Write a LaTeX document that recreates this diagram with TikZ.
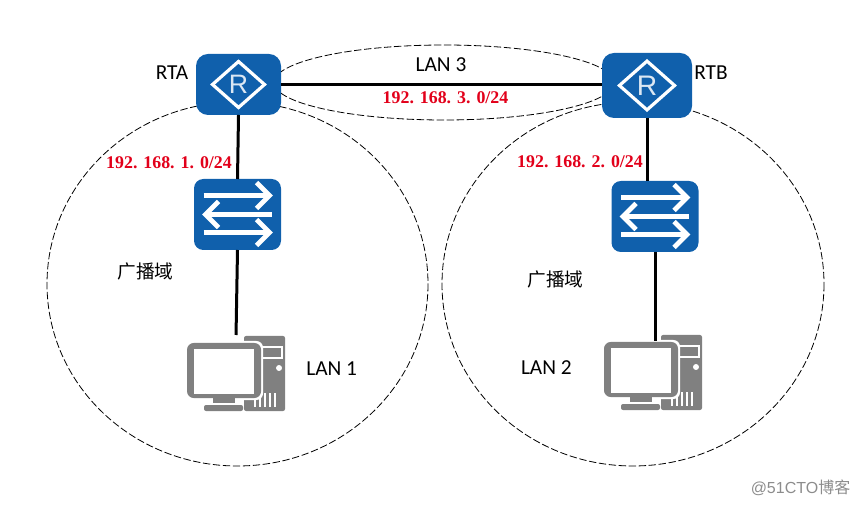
\documentclass[tikz,border=0pt]{standalone}
\usepackage{fontspec}
\setmainfont{Carlito}
\newfontfamily\cjkfont{Noto Sans CJK SC}
\newfontfamily\ipfont{Liberation Serif}
\newfontfamily\markfont{Liberation Sans}
\usetikzlibrary{positioning}

\definecolor{iconblue}{HTML}{1060AC}
\definecolor{pcgray}{HTML}{808080}
\definecolor{ipred}{HTML}{E2001A}

\begin{document}
\begin{tikzpicture}[x=0.75pt,y=-0.75pt]
  \tikzset{
    routerbox/.style={fill=iconblue, rounded corners=9pt, inner sep=0pt, outer sep=0pt},
    switchbox/.style={fill=iconblue, rounded corners=7pt, inner sep=0pt, outer sep=0pt,
      minimum width=65.25pt, minimum height=53.25pt},
    pcbox/.style={inner sep=0pt, outer sep=0pt, minimum width=73.5pt, minimum height=57pt},
    namelabel/.style={inner sep=0pt, font=\fontsize{16}{18}\selectfont},
    iplabel/.style={inner sep=0pt, text=ipred, font=\ipfont\bfseries\fontsize{13.4}{18}\selectfont},
    domainlabel/.style={inner sep=0pt, font=\cjkfont\fontsize{14}{16}\selectfont},
    link/.style={line width=2.25pt},
    ringline/.style={draw=black, line width=0.6pt, dash pattern=on 5.5pt off 2pt},
    flow/.style={draw=white, line width=3.6pt, miter limit=10},
    routermark/.pic={
      \draw[draw=white, line width=2.4pt, line join=miter] (-26,0) -- (0,-23) -- (26,0) -- (0,23) -- cycle;
      \node[text=white!85!iconblue, inner sep=0pt, font=\markfont\fontsize{20}{20}\selectfont, transform shape] (-letter) at (0,0) {R};
    },
    switchmark/.pic={
      \draw[flow] (-34,-19) -- (30,-19);
      \draw[flow] (19,-32) -- (32,-19) -- (19,-6);
      \draw[flow] (34,0) -- (-30,0);
      \draw[flow] (-19,-13) -- (-32,0) -- (-19,13);
      \draw[flow] (-34,18) -- (30,18);
      \draw[flow] (19,5) -- (32,18) -- (19,31);
    },
    pcmark/.pic={
      % tower
      \fill[pcgray, rounded corners=1.5pt] (8,-37) rectangle (49,38);
      \draw[white, line width=0.9pt] (25,-26) rectangle (46,-15);
      \fill[white] (43,-5) circle (3);
      \foreach \vx in {19,24,29,34,39} {
        \draw[white, line width=1.1pt] (\vx,20) -- (\vx,34);
      }
      % monitor
      \fill[white, rounded corners=5pt] (-51,-32) rectangle (27,27);
      \fill[pcgray, rounded corners=5pt] (-49,-30) rectangle (25,25);
      \fill[white] (-42,-24) rectangle (18,21);
      % stand
      \fill[pcgray] (-23,25) rectangle (-1,30);
      \fill[pcgray, rounded corners=1.5pt] (-32,32) rectangle (7,38);
    },
  }

  \useasboundingbox (0,0) rectangle (859,505);

  % broadcast domains
  \draw[ringline] (237.5,284) ellipse (190.5 and 182);
  \draw[ringline] (633,284) ellipse (191 and 182);
  \draw[ringline] (444,82.5) ellipse (170 and 37.5);

  % devices
  \node[routerbox, minimum width=63.75pt, minimum height=45.75pt] (rta) at (238.5,84.5) {};
  \node[routerbox, minimum width=67.5pt, minimum height=48.75pt] (rtb) at (647,85.5) {};
  \node[switchbox] (swa) [below=48pt of rta, xshift=-0.75pt] {};
  \node[switchbox] (swb) [below=47.25pt of rtb, xshift=6pt] {};
  \node[pcbox] (pca) [below=63.75pt of swa, xshift=-1.1pt] {};
  \node[pcbox] (pcb) [below=61.5pt of swb, xshift=-1.5pt] {};

  \pic (marka) at (rta) {routermark};
  \pic[scale=1.06] (markb) at (rtb) {routermark};
  \pic at (swa) {switchmark};
  \pic at (swb) {switchmark};
  \pic at (pca) {pcmark};
  \pic at (pcb) {pcmark};

  % links
  \draw[link] (rta.east) -- (rta.east -| rtb.west);
  \draw[link] (rta.south) -- (swa.north);
  \draw[link] (rtb.south) -- (rtb.south |- swb.north);
  \draw[link] (swa.south) -- (pca.north);
  \draw[link] (swb.south) -- ([yshift=-5pt]swb.south |- pcb.north);

  % labels
  \node[namelabel] (namea) at (172,73) {RTA};
  \node[namelabel] (nameb) at (711,73) {RTB};
  \node[namelabel] (lanc) at (441,65) {LAN 3};
  \node[namelabel] (lana) [right=15.75pt of pca, yshift=3pt] {LAN 1};
  \node[namelabel] (lanb) [left=24pt of pcb, yshift=3pt] {LAN 2};
  \node[iplabel] (ipa) at (169,163) {192. 168. 1. 0/24};
  \node[iplabel] (ipb) at (580,162) {192. 168. 2. 0/24};
  \node[iplabel] (ipc) at (445.5,98) {192. 168. 3. 0/24};
  \node[domainlabel] (doma) at (145.5,271) {广播域};
  \node[domainlabel] (domb) at (555.5,279) {广播域};
  \node[inner sep=0pt, text=black!45] (wmark) at (800.5,488) {\markfont\fontsize{12}{14}\selectfont @51CTO\cjkfont 博客};
\end{tikzpicture}
\end{document}
